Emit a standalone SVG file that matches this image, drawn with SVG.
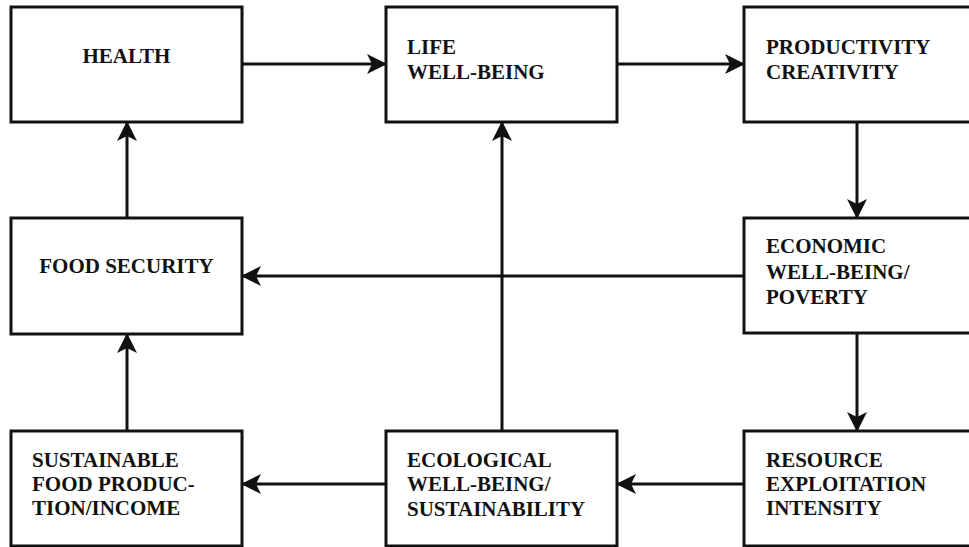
<svg xmlns="http://www.w3.org/2000/svg" width="969" height="547" viewBox="0 0 969 547">
<style>
.box{fill:#fff;stroke:#111;stroke-width:3}
.t{font-family:"Liberation Serif","Times New Roman",serif;font-weight:bold;font-size:21px;fill:#111}
.c{text-anchor:middle}
.e{fill:none;stroke:#111;stroke-width:3;marker-end:url(#ah)}
</style>
<defs>
<marker id="ah" viewBox="0 0 20 20" refX="19" refY="10" markerWidth="20" markerHeight="20" markerUnits="userSpaceOnUse" orient="auto">
<path d="M0,0 L20,10 L0,20 L5,10 Z" fill="#111"/>
</marker>
</defs>
<rect width="969" height="547" fill="#fff"/>
<g id="connectors">
<line class="e" x1="242" y1="64" x2="386" y2="64"/>
<line class="e" x1="617" y1="64" x2="744" y2="64"/>
<line class="e" x1="857" y1="122" x2="857" y2="218"/>
<line class="e" x1="744" y1="276" x2="242" y2="276"/>
<line class="e" x1="127" y1="218" x2="127" y2="122"/>
<line class="e" x1="127" y1="431" x2="127" y2="334"/>
<line class="e" x1="502" y1="431" x2="502" y2="122"/>
<line class="e" x1="857" y1="333" x2="857" y2="431"/>
<line class="e" x1="744" y1="484" x2="617" y2="484"/>
<line class="e" x1="386" y1="484" x2="242" y2="484"/>
</g>
<g id="health">
<rect class="box" x="11" y="7" width="231" height="115"/>
<text class="t c" x="126.5" y="63">HEALTH</text>
</g>
<g id="life">
<rect class="box" x="386" y="7" width="231" height="115"/>
<text class="t" x="407" y="54">LIFE</text>
<text class="t" x="407" y="79">WELL-BEING</text>
</g>
<g id="productivity">
<rect class="box" x="744" y="7" width="230" height="115"/>
<text class="t" x="766" y="54">PRODUCTIVITY</text>
<text class="t" x="766" y="79">CREATIVITY</text>
</g>
<g id="food-security">
<rect class="box" x="11" y="218" width="231" height="116"/>
<text class="t c" x="126.5" y="273">FOOD SECURITY</text>
</g>
<g id="economic">
<rect class="box" x="744" y="218" width="230" height="115"/>
<text class="t" x="766" y="253">ECONOMIC</text>
<text class="t" x="766" y="279">WELL-BEING/</text>
<text class="t" x="766" y="304">POVERTY</text>
</g>
<g id="sustainable">
<rect class="box" x="11" y="431" width="231" height="115"/>
<text class="t" x="32" y="467">SUSTAINABLE</text>
<text class="t" x="32" y="491">FOOD PRODUC-</text>
<text class="t" x="32" y="515">TION/INCOME</text>
</g>
<g id="ecological">
<rect class="box" x="386" y="431" width="231" height="115"/>
<text class="t" x="407" y="467">ECOLOGICAL</text>
<text class="t" x="407" y="491">WELL-BEING/</text>
<text class="t" x="407" y="516">SUSTAINABILITY</text>
</g>
<g id="resource">
<rect class="box" x="744" y="431" width="230" height="115"/>
<text class="t" x="766" y="467">RESOURCE</text>
<text class="t" x="766" y="491">EXPLOITATION</text>
<text class="t" x="766" y="515">INTENSITY</text>
</g>
</svg>
